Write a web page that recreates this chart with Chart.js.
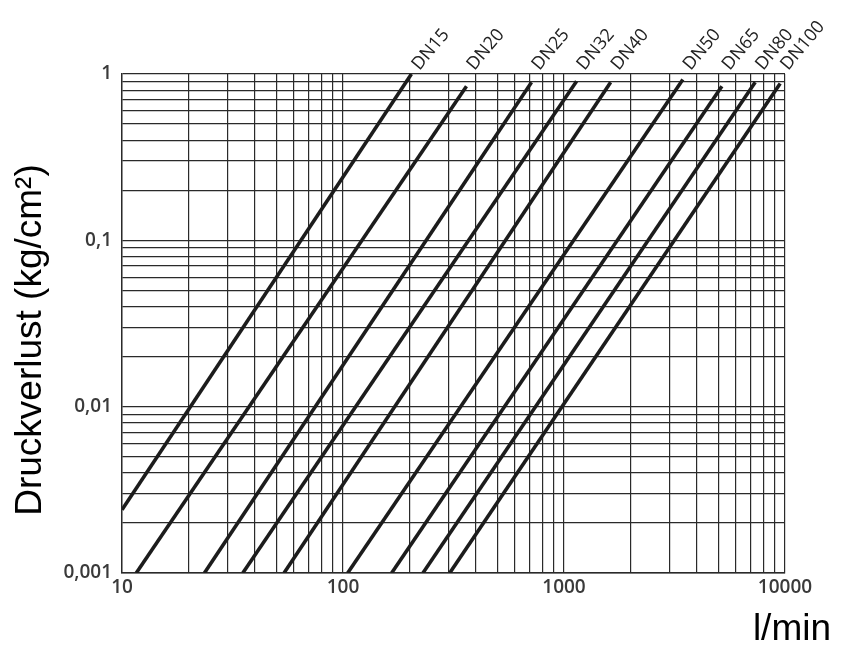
<!DOCTYPE html>
<html>
<head>
<meta charset="utf-8">
<script src="https://cdn.jsdelivr.net/npm/chart.js@4"></script>
<style>
	html, body { margin: 0; padding: 0; background: #fff; }
	#wrap { width: 843px; height: 657px; }
</style>
</head>
<body>
<div id="wrap"><canvas id="chart" width="843" height="657"></canvas></div>
<script>
	'use strict';

	// Pipe sizes and the end points of each pressure loss line.
	const sizes = ['DN15', 'DN20', 'DN25', 'DN32', 'DN40', 'DN50', 'DN65', 'DN80', 'DN100'];
	const flowStart = [10, 11.6, 23.6, 35.2, 54.1, 105, 166, 230, 304];
	const lossStart = [0.0024, 0.001, 0.001, 0.001, 0.001, 0.001, 0.001, 0.001, 0.001];
	const flowEnd = [204, 362, 713, 1140, 1626, 3450, 5180, 7330, 9510];
	const lossEnd = [1, 0.845, 0.893, 0.905, 0.893, 0.927, 0.845, 0.893, 0.877];

	// Axis decades and their labels.
	const xDecades = [10, 100, 1000, 10000];
	const xTickLabels = ['10', '100', '1000', '10000'];
	const yDecades = [0.001, 0.01, 0.1, 1];
	const yTickLabels = ['0,001', '0,01', '0,1', '1'];
	const subSteps = [1, 2, 3, 4, 5, 6, 7, 8, 9];

	const lineColor = '#1c1c1c';
	const gridColor = '#2a2a2a';

	/**
	 * All grid values for a log axis: every 1..9 step of each decade.
	 */
	function gridValues(decades) {
		const values = [];
		decades.forEach(function(d, i) {
			if (i === decades.length - 1) {
				values.push(d);
				return;
			}
			subSteps.forEach(function(s) {
				values.push(+(d * s).toPrecision(6));
			});
		});
		return values;
	}

	function labelFor(decades, labels, value) {
		for (let i = 0; i < decades.length; i++) {
			if (Math.abs(value / decades[i] - 1) < 1e-6) return labels[i];
		}
		return '';
	}

	const datasets = sizes.map(function(name, i) {
		return {
			label: name,
			data: [
				{ x: flowStart[i], y: lossStart[i] },
				{ x: flowEnd[i], y: lossEnd[i] }
			],
			borderColor: lineColor,
			borderWidth: 3.6,
			pointRadius: 0,
			tension: 0,
			fill: false
		};
	});

	// Rotated DN labels above the top end of each line.
	const endLabels = {
		id: 'endLabels',
		afterDatasetsDraw: function(chart) {
			const ctx = chart.ctx;
			const top = chart.chartArea.top;
			ctx.save();
			ctx.fillStyle = '#222';
			ctx.font = '18px "Open Sans"';
			ctx.textAlign = 'left';
			ctx.textBaseline = 'alphabetic';
			chart.data.datasets.forEach(function(ds, i) {
				const pt = chart.getDatasetMeta(i).data[1];
				ctx.save();
				ctx.translate(pt.x + 8, top - 3);
				ctx.rotate(-50 * Math.PI / 180);
				ctx.fillText(ds.label, 0, 0);
				ctx.restore();
			});
			ctx.restore();
		}
	};

	// Axis titles placed like in the printed diagram.
	const axisTitles = {
		id: 'axisTitles',
		afterDraw: function(chart) {
			const ctx = chart.ctx;
			ctx.save();
			ctx.fillStyle = '#000';
			ctx.font = '37px "Liberation Sans", Arial, sans-serif';
			ctx.textAlign = 'right';
			ctx.textBaseline = 'alphabetic';
			ctx.fillText('l/min', 831, 640);
			ctx.translate(41, 340);
			ctx.rotate(-Math.PI / 2);
			ctx.textAlign = 'center';
			ctx.fillText('Druckverlust (kg/cm²)', 0, 0);
			ctx.restore();
		}
	};

	const tickFont = { family: '"Open Sans"', size: 19, weight: '600' };

	new Chart(document.getElementById('chart').getContext('2d'), {
		type: 'line',
		data: { datasets: datasets },
		options: {
			responsive: false,
			animation: false,
			layout: { padding: { left: 0, top: 74, right: 58, bottom: 0 } },
			plugins: {
				legend: { display: false },
				tooltip: { enabled: false }
			},
			scales: {
				x: {
					type: 'logarithmic',
					min: 10,
					max: 10000,
					afterBuildTicks: function(scale) {
						scale.ticks = gridValues(xDecades).map(function(v) { return { value: v }; });
					},
					afterFit: function(scale) { scale.height = 84; },
					ticks: {
						autoSkip: false,
						maxRotation: 0,
						padding: 3,
						color: '#3a3a3a',
						font: tickFont,
						callback: function(value) { return labelFor(xDecades, xTickLabels, value); }
					},
					grid: { color: gridColor, lineWidth: 1.2, drawTicks: false },
					border: { color: gridColor, width: 1.4 }
				},
				y: {
					type: 'logarithmic',
					min: 0.001,
					max: 1,
					afterBuildTicks: function(scale) {
						scale.ticks = gridValues(yDecades).map(function(v) { return { value: v }; });
					},
					afterFit: function(scale) { scale.width = 122; },
					ticks: {
						autoSkip: false,
						padding: 10,
						color: '#3a3a3a',
						font: tickFont,
						callback: function(value) { return labelFor(yDecades, yTickLabels, value); }
					},
					grid: { color: gridColor, lineWidth: 1.2, drawTicks: false },
					border: { color: gridColor, width: 1.4 }
				}
			}
		},
		plugins: [endLabels, axisTitles]
	});
</script>
</body>
</html>
